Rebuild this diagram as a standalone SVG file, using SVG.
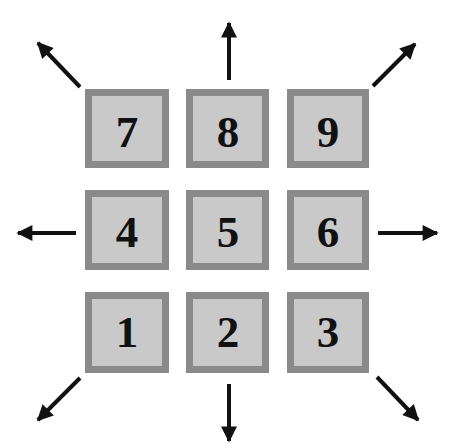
<svg xmlns="http://www.w3.org/2000/svg" width="464" height="448" viewBox="0 0 464 448">
<style>
.box{fill:#c9c9c9;stroke:#8a8a8a;stroke-width:7}
.lbl{font-family:"Liberation Serif",serif;font-weight:bold;font-size:45px;fill:#111;text-anchor:middle}
.arr{stroke:#111;stroke-width:4;fill:none;marker-end:url(#ah)}
</style>
<defs>
<marker id="ah" viewBox="0 0 10 10" refX="9" refY="5" markerWidth="4.5" markerHeight="4" orient="auto" markerUnits="strokeWidth">
<path d="M0,0 L10,5 L0,10 Z" fill="#111"/>
</marker>
</defs>
<rect width="464" height="448" fill="#fff"/>
<g id="connectors">
<line class="arr" x1="80" y1="87" x2="38" y2="43"/>
<line class="arr" x1="229" y1="80" x2="229" y2="23"/>
<line class="arr" x1="373" y1="86" x2="415" y2="44"/>
<line class="arr" x1="76" y1="233" x2="18" y2="233"/>
<line class="arr" x1="378" y1="233" x2="437" y2="233"/>
<line class="arr" x1="80" y1="378" x2="38" y2="420"/>
<line class="arr" x1="229" y1="384" x2="229" y2="441"/>
<line class="arr" x1="377" y1="377" x2="418" y2="420"/>
</g>
<g id="n7"><rect class="box" x="88.5" y="92.5" width="77" height="72"/><text class="lbl" x="127" y="147">7</text></g>
<g id="n8"><rect class="box" x="189.5" y="92.5" width="76" height="72"/><text class="lbl" x="228" y="147">8</text></g>
<g id="n9"><rect class="box" x="290.5" y="92.5" width="75" height="72"/><text class="lbl" x="328" y="147">9</text></g>
<g id="n4"><rect class="box" x="88.5" y="193.5" width="77" height="73"/><text class="lbl" x="127" y="247">4</text></g>
<g id="n5"><rect class="box" x="189.5" y="193.5" width="76" height="73"/><text class="lbl" x="228" y="247">5</text></g>
<g id="n6"><rect class="box" x="290.5" y="193.5" width="75" height="73"/><text class="lbl" x="328" y="247">6</text></g>
<g id="n1"><rect class="box" x="88.5" y="295.5" width="77" height="74"/><text class="lbl" x="127" y="347">1</text></g>
<g id="n2"><rect class="box" x="189.5" y="295.5" width="76" height="74"/><text class="lbl" x="228" y="347">2</text></g>
<g id="n3"><rect class="box" x="290.5" y="295.5" width="75" height="74"/><text class="lbl" x="328" y="347">3</text></g>
</svg>
